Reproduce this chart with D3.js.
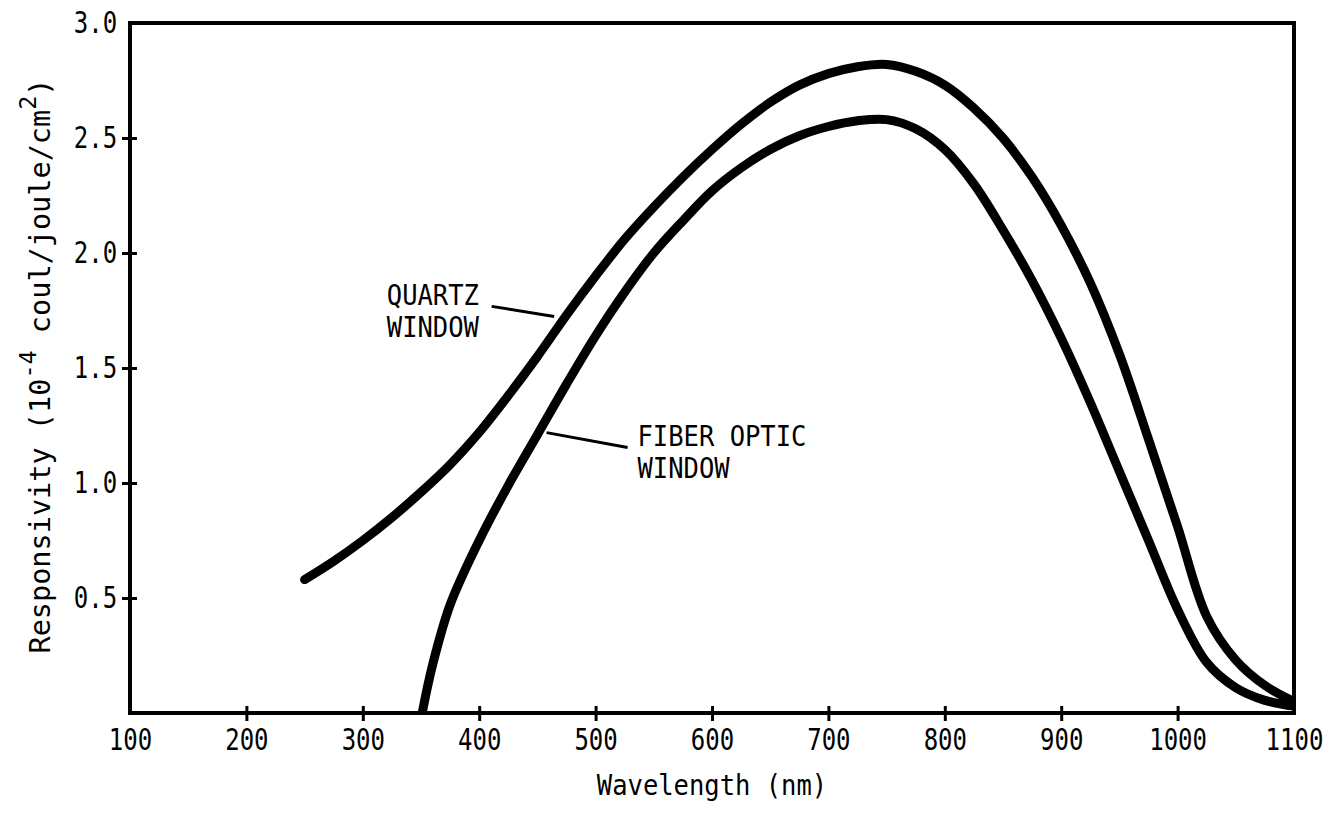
<!DOCTYPE html>
<html>
<head>
<meta charset="utf-8">
<script src="https://cdn.jsdelivr.net/npm/d3@7"></script>
<style>
  html, body { margin: 0; padding: 0; background: #fff; }
  svg { display: block; }
  text { font-family: "DejaVu Sans Mono", "Liberation Mono", monospace; fill: #000; }
</style>
</head>
<body>
<svg id="chart" width="1335" height="818"></svg>
<script>
// ---- data ----
const quartzWavelength = [250, 275, 300, 325, 350, 375, 400, 425, 450, 475, 500, 525, 550, 575, 600, 625, 650, 675, 700, 725, 750, 775, 800, 825, 850, 875, 900, 925, 950, 975, 1000, 1025, 1050, 1075, 1100];
const quartzResponse   = [0.58, 0.66, 0.75, 0.85, 0.96, 1.08, 1.22, 1.38, 1.55, 1.73, 1.90, 2.06, 2.20, 2.33, 2.45, 2.56, 2.655, 2.73, 2.78, 2.81, 2.82, 2.79, 2.73, 2.63, 2.50, 2.33, 2.12, 1.87, 1.56, 1.19, 0.81, 0.42, 0.23, 0.12, 0.05];

const fiberWavelength = [351, 360, 375, 400, 425, 450, 475, 500, 525, 550, 575, 600, 625, 650, 675, 700, 725, 750, 775, 800, 825, 850, 875, 900, 925, 950, 975, 1000, 1025, 1050, 1075, 1100];
const fiberResponse   = [0.0, 0.21, 0.47, 0.75, 0.99, 1.21, 1.43, 1.64, 1.83, 2.00, 2.14, 2.27, 2.37, 2.45, 2.51, 2.55, 2.575, 2.58, 2.54, 2.45, 2.30, 2.10, 1.88, 1.63, 1.35, 1.05, 0.75, 0.45, 0.22, 0.11, 0.055, 0.03];

const xTickValues = [100, 200, 300, 400, 500, 600, 700, 800, 900, 1000, 1100];
const yTickValues = [0.5, 1.0, 1.5, 2.0, 2.5, 3.0];

const quartzLabel = ["QUARTZ", "WINDOW"];
const fiberLabel  = ["FIBER OPTIC", "WINDOW"];
// annotation anchors in data units [wavelength, responsivity]
const quartzLabelAt  = [320.6, 1.772];
const quartzLeader   = [[410.7, 1.768], [464.4, 1.724]];
const fiberLabelAt   = [536, 1.162];
const fiberLeader    = [[457.9, 1.219], [527.5, 1.154]];

// ---- layout ----
const svg = d3.select("#chart");
const mLeft = 130, mRight = 1294, mTop = 23, mBottom = 713;

const x = d3.scaleLinear().domain([100, 1100]).range([mLeft, mRight]);
const y = d3.scaleLinear().domain([0, 3.0]).range([mBottom, mTop]);

// clip
svg.append("defs").append("clipPath").attr("id", "plotClip")
  .append("rect").attr("x", mLeft).attr("y", mTop).attr("width", mRight - mLeft).attr("height", mBottom - mTop);

// curves
const line = d3.line()
  .x(d => x(d[0])).y(d => y(d[1]))
  .curve(d3.curveCatmullRom.alpha(0.5));

const series = [
  d3.zip(quartzWavelength, quartzResponse),
  d3.zip(fiberWavelength, fiberResponse)
];
svg.append("g").attr("clip-path", "url(#plotClip)")
  .selectAll("path").data(series).join("path")
  .attr("d", line)
  .attr("fill", "none")
  .attr("stroke", "#000")
  .attr("stroke-width", 9)
  .attr("stroke-linecap", "round")
  .attr("stroke-linejoin", "round");

// frame
svg.append("rect")
  .attr("x", mLeft).attr("y", mTop)
  .attr("width", mRight - mLeft).attr("height", mBottom - mTop)
  .attr("fill", "none").attr("stroke", "#000").attr("stroke-width", 4);

// x axis
const xAxis = d3.axisBottom(x).tickValues(xTickValues).tickSizeInner(7).tickSizeOuter(0).tickPadding(9)
  .tickFormat(d3.format("d"));
const gx = svg.append("g").attr("transform", `translate(0,${mBottom})`).call(xAxis);
gx.select(".domain").remove();
gx.selectAll(".tick line")
  .attr("y1", -7).attr("y2", 8)
  .attr("stroke", "#000").attr("stroke-width", 3)
  .attr("display", d => (d === 100 || d === 1100) ? "none" : null);
gx.selectAll(".tick text")
  .attr("font-size", 30)
  .attr("font-family", "DejaVu Sans Mono")
  .attr("transform", "scale(0.8,1)");

// y axis
const yAxis = d3.axisLeft(y).tickValues(yTickValues).tickSizeInner(8).tickSizeOuter(0)
  .tickFormat(d3.format(".1f"));
const gy = svg.append("g").attr("transform", `translate(${mLeft},0)`).call(yAxis);
gy.select(".domain").remove();
gy.selectAll(".tick line")
  .attr("x1", 7).attr("x2", -8)
  .attr("stroke", "#000").attr("stroke-width", 3)
  .attr("display", d => d === 3.0 ? "none" : null);
gy.selectAll(".tick text")
  .attr("font-size", 30)
  .attr("font-family", "DejaVu Sans Mono")
  .attr("x", -16)
  .attr("transform", "scale(0.8,1)");

// axis titles
svg.append("text")
  .attr("transform", `translate(${(mLeft + mRight) / 2},795) scale(0.88,1)`)
  .attr("text-anchor", "middle")
  .attr("font-size", 29)
  .text("Wavelength (nm)");

const yt = svg.append("text")
  .attr("transform", `translate(50,366) rotate(-90) scale(1.02,1)`)
  .attr("text-anchor", "middle")
  .attr("font-size", 28);
yt.append("tspan").text("Responsivity (10");
yt.append("tspan").attr("font-size", 23).attr("dy", -14).text("-4");
yt.append("tspan").attr("dy", 14).text(" coul/joule/cm");
yt.append("tspan").attr("font-size", 23).attr("dy", -14).text("2");
yt.append("tspan").attr("dy", 14).text(")");

// annotations
function addLabel(lines, at) {
  const g = svg.append("g").attr("transform", `translate(${x(at[0])},${y(at[1])}) scale(0.88,1)`);
  g.selectAll("text").data(lines).join("text")
    .attr("x", 0).attr("y", (d, i) => i * 32)
    .attr("font-size", 29)
    .text(d => d);
}
addLabel(quartzLabel, quartzLabelAt);
addLabel(fiberLabel, fiberLabelAt);

const leader = d3.line().x(d => x(d[0])).y(d => y(d[1]));
svg.selectAll(".leader").data([quartzLeader, fiberLeader]).join("path")
  .attr("class", "leader")
  .attr("d", leader)
  .attr("fill", "none").attr("stroke", "#000").attr("stroke-width", 3);
</script>
</body>
</html>
